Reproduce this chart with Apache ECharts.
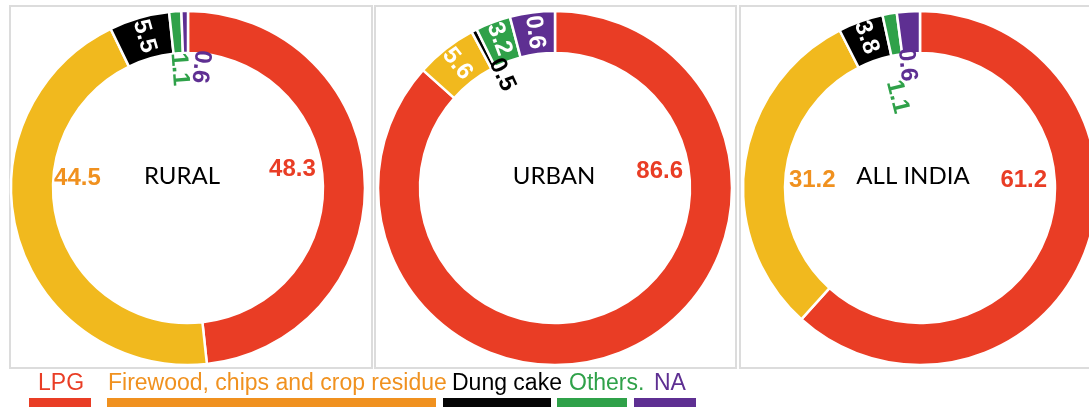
<!DOCTYPE html>
<html>
<head>
<meta charset="utf-8">
<script src="https://cdn.jsdelivr.net/npm/echarts@6/dist/echarts.min.js"></script>
<style>
  html, body { margin: 0; padding: 0; background: #fff; }
  #wrap { position: relative; width: 1089px; height: 407px; overflow: hidden; }
  .panel { position: absolute; top: 5px; height: 360px; border: 2px solid #dcdcdc; }
  #chart { position: absolute; left: 0; top: 0; width: 1089px; height: 370px; }
  .lg { position: absolute; top: 371px; font: 23px "Liberation Sans", Arial, sans-serif; line-height: 22px; white-space: nowrap; }
  .bar { position: absolute; top: 398px; height: 9px; }
</style>
</head>
<body>
<div id="wrap">
  <div class="panel" style="left:9px;width:360px"></div>
  <div class="panel" style="left:374px;width:359px"></div>
  <div class="panel" style="left:739px;width:400px"></div>
  <div id="chart"></div>
  <div id="legend"></div>
</div>
<script>
// data
const categories = ['LPG', 'Firewood, chips and crop residue', 'Dung cake', 'Others.', 'NA'];
const regions = ['RURAL', 'URBAN', 'ALL INDIA'];
// printed values
const ruralValues = [48.3, 44.5, 5.5, 1.1, 0.6];
const urbanValues = [86.6, 5.6, 0.5, 3.2, 0.6];
const allIndiaValues = [61.2, 31.2, 3.8, 1.1, 0.6];
// arc sizes as drawn in the picture
const ruralShares = [48.3, 44.5, 5.5, 1.1, 0.6];
const urbanShares = [86.6, 5.6, 0.5, 3.2, 4.1];
const allIndiaShares = [61.7, 30.8, 4.1, 1.3, 2.1];

// styles
const sliceColors = ['#E93D25', '#F1B91E', '#000000', '#2FA149', '#5E2F92'];
const legendText = ['#E93D25', '#F0911F', '#000000', '#2FA149', '#5E2F92'];
const legendBar = ['#E93D25', '#F0911F', '#050505', '#2FA149', '#5E2F92'];
const legendTextX = [38, 108, 452, 569, 654];
const legendBarX = [[29, 91], [107, 436], [443, 551], [557, 627], [634, 696]];

const centers = [[188, 188], [555, 188], [920, 188]];
const titleX = [182, 554, 913];
const labelColors = [
  ['#E93D25', '#F0911F', '#fff', '#2FA149', '#5E2F92'],
  ['#E93D25', '#fff', '#000', '#fff', '#fff'],
  ['#E93D25', '#F0911F', '#fff', '#2FA149', '#5E2F92']
];
// a: angle clockwise from 12 o'clock (default: slice middle), r: radius, h: horizontal text
const labelPlace = [
  [{ a: 80, r: 106, h: true }, { a: 275, r: 111, h: true }, { r: 158 }, { r: 119 }, { a: 6, r: 122 }],
  [{ a: 81, r: 106, h: true }, { r: 158 }, { a: 335, r: 125 }, { r: 159 }, { r: 157 }],
  [{ a: 86, r: 104, h: true }, { a: 274, r: 108, h: true }, { r: 160 }, { a: 346, r: 94 }, { a: 354, r: 124 }]
];

const valuesList = [ruralValues, urbanValues, allIndiaValues];
const sharesList = [ruralShares, urbanShares, allIndiaShares];

function midAngles(shares) {
  const total = shares.reduce((s, v) => s + v, 0);
  let acc = 0;
  return shares.map(v => {
    const m = (acc + v / 2) / total * 360;
    acc += v;
    return m;
  });
}

const series = regions.map((region, k) => {
  const mids = midAngles(sharesList[k]);
  const c = centers[k];
  return {
    type: 'pie',
    name: region,
    center: c,
    radius: [135, 177],
    startAngle: 90,
    clockwise: true,
    silent: true,
    animation: false,
    avoidLabelOverlap: false,
    itemStyle: { borderColor: '#fff', borderWidth: 2.5 },
    labelLine: { show: false },
    label: {
      show: true,
      position: 'inside',
      fontFamily: '"Liberation Sans", Arial, sans-serif',
      fontSize: 24,
      fontWeight: 'bold'
    },
    labelLayout: function (params) {
      const i = params.dataIndex;
      const p = labelPlace[k][i];
      const a = (p.a != null ? p.a : mids[i]);
      const rad = a * Math.PI / 180;
      return {
        x: c[0] + p.r * Math.sin(rad),
        y: c[1] - p.r * Math.cos(rad),
        rotate: p.h ? 0 : 270 - a,
        align: 'center',
        verticalAlign: 'middle'
      };
    },
    data: categories.map((name, i) => ({
      name: name,
      value: sharesList[k][i],
      itemStyle: { color: sliceColors[i] },
      label: { formatter: String(valuesList[k][i]), color: labelColors[k][i] }
    }))
  };
});

const chart = echarts.init(document.getElementById('chart'), null, { renderer: 'canvas' });
chart.setOption({
  backgroundColor: 'transparent',
  animation: false,
  graphic: regions.map((region, k) => ({
    type: 'text',
    x: titleX[k],
    y: 176,
    silent: true,
    style: {
      text: region,
      fill: '#000',
      font: '24px Lato, "Noto Sans", sans-serif',
      textAlign: 'center',
      textVerticalAlign: 'middle',
      align: 'center',
      verticalAlign: 'middle'
    }
  })),
  series: series
});

// legend: coloured names with a bar underneath
const legend = document.getElementById('legend');
categories.forEach((name, i) => {
  const t = document.createElement('div');
  t.className = 'lg';
  t.style.left = legendTextX[i] + 'px';
  t.style.color = legendText[i];
  t.textContent = name;
  legend.appendChild(t);
  const b = document.createElement('div');
  b.className = 'bar';
  b.style.left = legendBarX[i][0] + 'px';
  b.style.width = (legendBarX[i][1] - legendBarX[i][0]) + 'px';
  b.style.background = legendBar[i];
  legend.appendChild(b);
});
</script>
</body>
</html>
